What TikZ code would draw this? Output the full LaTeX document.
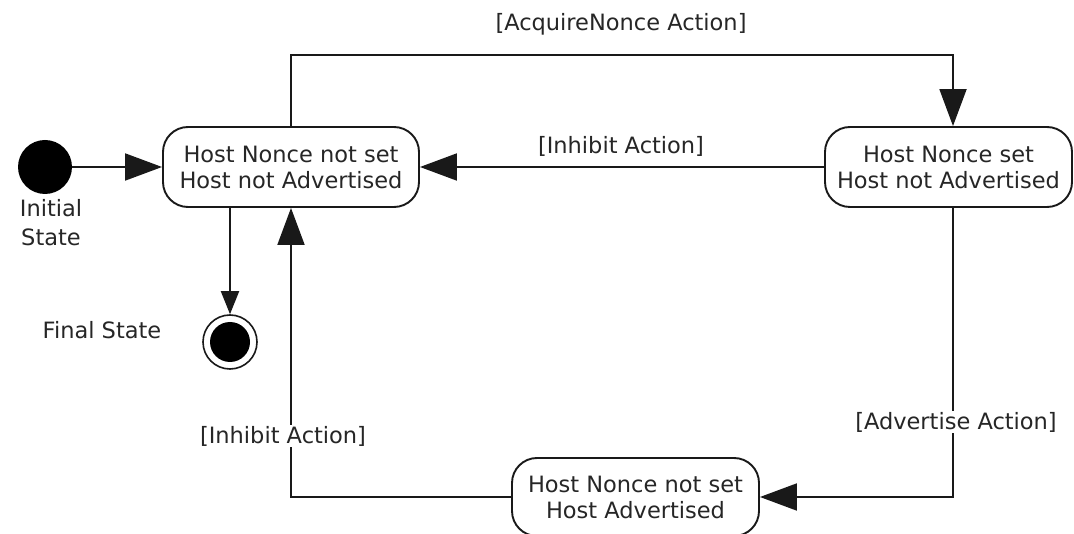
\documentclass[tikz,border=0pt]{standalone}
\usepackage{fontspec}
\setmainfont{DejaVu Sans}
\usetikzlibrary{arrows.meta}
\begin{document}
\begin{tikzpicture}[x=1pt,y=-1pt,
  every node/.style={font=\fontsize{22.5}{26}\selectfont, text=black!85},
  statebox/.style={draw=black!90, line width=1.9pt, rounded corners=25pt, align=center, inner sep=0pt},
  conn/.style={draw=black!90, line width=1.9pt, -{Triangle[length=37pt,width=27pt]}},
  connsmall/.style={draw=black!90, line width=1.9pt, -{Triangle[length=23pt,width=18pt]}},
  lab/.style={fill=white, inner sep=1pt}
]
\useasboundingbox (0,0) rectangle (1074,534);

\node[statebox, minimum width=256pt, minimum height=80pt] (A) at (291,167) {Host Nonce not set\\Host not Advertised};
\node[statebox, minimum width=247pt, minimum height=80pt] (B) at (948.5,167) {Host Nonce set\\Host not Advertised};
\node[statebox, minimum width=247pt, minimum height=78pt] (C) at (635.5,497) {Host Nonce not set\\Host Advertised};

\node[circle, fill=black, minimum size=54pt, inner sep=0pt] (init) at (45,167) {};
\node[circle, draw=black!90, line width=1.6pt, minimum size=54pt, inner sep=0pt] (fin) at (230,342) {};
\node[circle, fill=black, minimum size=40pt, inner sep=0pt] (finin) at (fin) {};

\node[align=center, font=\fontsize{22.5}{29}\selectfont] (initlab) at (51,223) {Initial\\State};
\node (finlab) at (102,330) {Final State};

\coordinate (t2) at (953,55);
\coordinate (r) at (953,497);
\coordinate (l) at (291,497);

\draw[conn] (init.east) -- (A.west |- init.east);
\draw[connsmall] (A.south -| fin) -- (fin.north);
\draw[conn] (A.north) |- (t2) -- (B.north -| t2);
\draw[conn] (B.west) -- (A.east);
\draw[conn] (B.south -| r) -- (r) -- (C.east);
\draw[conn] (C.west) -- (l) -- (A.south);

\node (lab1) at (621,24) {[AcquireNonce Action]};
\node (lab2) at (621,146) {[Inhibit Action]};
\node[lab] (lab3) at (956,422) {[Advertise Action]};
\node[lab] (lab4) at (283,436) {[Inhibit Action]};
\end{tikzpicture}
\end{document}
